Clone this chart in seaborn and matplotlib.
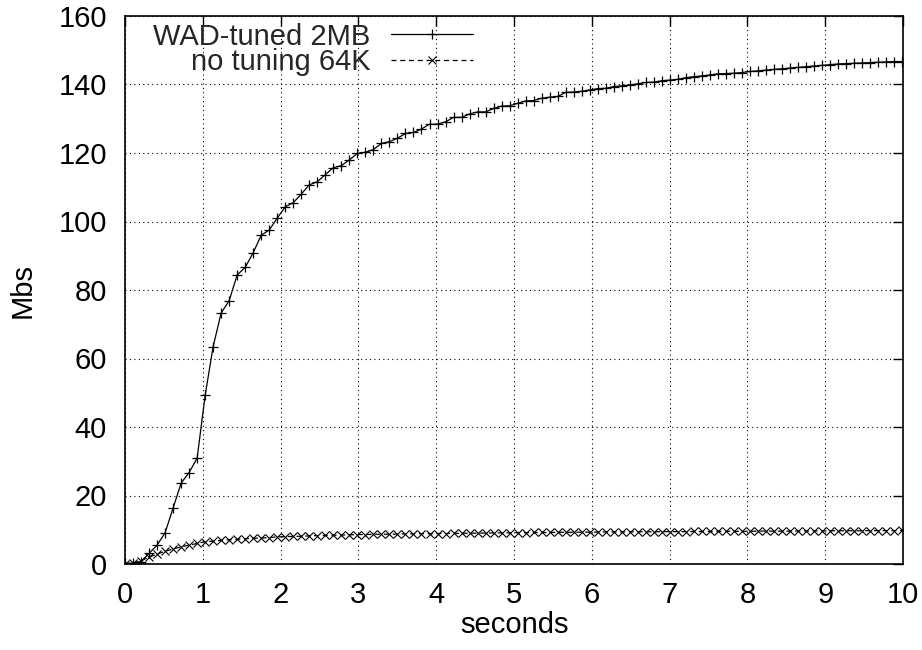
import numpy as np
import pandas as pd
import matplotlib
matplotlib.use('Agg')
import matplotlib.pyplot as plt
import seaborn as sns

# throughput samples, one every ~0.103 s
interval = 0.103

wad_tuned = [0.2, 0.2, 0.7, 3.1, 5.5, 9.1, 16.3, 23.6, 26.7, 30.9,
             49.2, 63.5, 73.3, 76.9, 84.4, 86.6, 90.9, 96.0, 97.5, 101.0,
             104.3, 105.5, 108.0, 110.7, 111.6, 113.7, 115.7, 116.3, 118.0, 119.9,
             120.2, 121.0, 122.8, 123.3, 124.3, 125.7, 126.0, 127.0, 128.4, 128.4,
             129.1, 130.4, 130.4, 131.4, 132.0, 132.0, 133.0, 133.7, 133.8, 134.5,
             135.2, 135.3, 136.0, 136.3, 136.5, 137.7, 137.8, 138.0, 138.4, 138.8,
             138.9, 139.4, 139.6, 139.9, 140.2, 140.6, 140.7, 141.1, 141.3, 141.5,
             142.0, 142.3, 142.5, 142.8, 143.1, 143.2, 143.3, 143.5, 143.8, 144.0,
             144.2, 144.4, 144.6, 144.8, 145.0, 145.2, 145.4, 145.6, 145.8, 146.0,
             146.1, 146.2, 146.3, 146.4, 146.5, 146.6, 146.7, 146.7]

no_tuning = [0.0, 0.3, 1.0, 2.0, 2.9, 3.7, 4.4, 5.0, 5.5, 6.0,
             6.5, 6.7, 6.9, 7.1, 7.2, 7.4, 7.5, 7.6, 7.7, 7.9,
             8.0, 8.05, 8.1, 8.2, 8.3, 8.35, 8.4, 8.45, 8.5, 8.6,
             8.6, 8.65, 8.7, 8.7, 8.75, 8.8, 8.8, 8.85, 8.85, 8.9,
             8.9, 8.95, 8.95, 9.0, 9.0, 9.05, 9.05, 9.1, 9.1, 9.15,
             9.15, 9.2, 9.2, 9.2, 9.25, 9.25, 9.25, 9.3, 9.3, 9.3,
             9.35, 9.35, 9.35, 9.4, 9.4, 9.4, 9.4, 9.45, 9.45, 9.45,
             9.45, 9.5, 9.5, 9.5, 9.5, 9.55, 9.55, 9.55, 9.55, 9.6,
             9.6, 9.6, 9.6, 9.6, 9.65, 9.65, 9.65, 9.65, 9.7, 9.7,
             9.7, 9.7, 9.7, 9.75, 9.75, 9.75, 9.75, 9.8]

labels = ['WAD-tuned 2MB', 'no tuning 64K']
x_ticks = list(range(0, 11))
y_ticks = list(range(0, 161, 20))

seconds = interval * np.arange(len(wad_tuned))
df = pd.DataFrame({'seconds': seconds, 'wad': wad_tuned, 'none': no_tuning})

sns.set_theme(style='white')
plt.rcParams['font.family'] = ['Liberation Sans', 'DejaVu Sans']

fig = plt.figure(figsize=(9.22, 6.5), dpi=100)
ax = fig.add_axes([125 / 922, 1 - 564 / 650, 778 / 922, 548 / 650])

sns.lineplot(data=df, x='seconds', y='wad', ax=ax, color='black', linewidth=0.9,
             linestyle='-', marker='+', markersize=7.5, markeredgewidth=0.9,
             markeredgecolor='black', estimator=None, label=labels[0])
sns.lineplot(data=df, x='seconds', y='none', ax=ax, color='black', linewidth=0.9,
             linestyle=(0, (4, 3)), marker='x', markersize=6, markeredgewidth=0.8,
             markeredgecolor='black', markerfacecolor='none', estimator=None,
             label=labels[1])

ax.set_xlim(0, 10)
ax.set_ylim(0, 160)
ax.set_xticks(x_ticks)
ax.set_yticks(y_ticks)
ax.grid(True, color='black', linestyle=(0, (1, 3)), linewidth=0.8)
ax.set_axisbelow(True)

for side in ax.spines.values():
    side.set_color('black')
    side.set_linewidth(1.2)

ax.tick_params(direction='in', length=7, width=1, colors='black', labelsize=21,
               top=True, right=True, labelcolor='black')
ax.tick_params(axis='x', pad=12)
ax.tick_params(axis='y', pad=13)

ax.set_xlabel('seconds', fontsize=21, labelpad=2, color='black')
ax.set_ylabel('Mbs', fontsize=21, labelpad=16, color='black')

leg = ax.legend(loc='upper left', bbox_to_anchor=(0.014, 1.02), frameon=False,
                markerfirst=False, fontsize=21, handlelength=2.8, handletextpad=0.7,
                labelspacing=-0.08, borderaxespad=0.4, borderpad=0.2, numpoints=1)

fig.savefig('out.png', dpi=100, facecolor='white')
